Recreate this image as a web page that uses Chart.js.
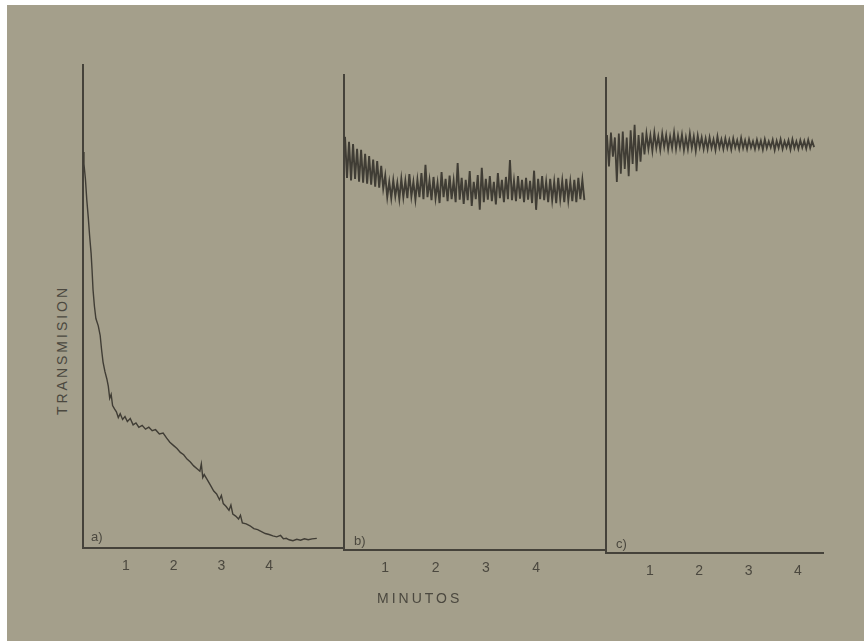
<!DOCTYPE html>
<html>
<head>
<meta charset="utf-8">
<script src="https://cdn.jsdelivr.net/npm/chart.js@4.4.1/dist/chart.umd.min.js"></script>
<style>
  html, body { margin: 0; background: #a49f8b; overflow: hidden; }
  #page {
    position: relative; width: 864px; height: 641px; overflow: hidden;
    background: #a49f8b; font-family: "Liberation Sans", Arial, sans-serif; color: #4b483f;
  }
  .edge-top { position: absolute; left: 0; top: 0; width: 864px; height: 5px; background: #fff; }
  .edge-left { position: absolute; left: 0; top: 0; width: 7px; height: 641px; background: #fff; }
  canvas { position: absolute; }
  .lbl { position: absolute; font-size: 13px; }
  #ylabel {
    position: absolute; left: 62px; top: 350px; font-size: 14px; letter-spacing: 3px;
    transform: translate(-50%, -50%) rotate(-90deg); white-space: nowrap;
  }
  #xlabel { position: absolute; left: 377px; top: 590px; font-size: 14px; letter-spacing: 3px; }
</style>
</head>
<body>
<div id="page">
  <div class="edge-top"></div>
  <div class="edge-left"></div>
  <canvas id="panel-a" width="264" height="516" style="left:80px; top:62px;"></canvas>
  <canvas id="panel-b" width="265" height="508" style="left:341px; top:72px;"></canvas>
  <canvas id="panel-c" width="221" height="508" style="left:603px; top:75px;"></canvas>
  <div class="lbl" style="left:91px; top:529px;">a)</div>
  <div class="lbl" style="left:354px; top:533px;">b)</div>
  <div class="lbl" style="left:616px; top:536px;">c)</div>
  <div id="ylabel">TRANSMISION</div>
  <div id="xlabel">MINUTOS</div>
</div>
<script>
// minute ticks shared by all three panels
const tick_minutes = [1, 2, 3, 4];

// a) smooth decay
const time_a = [
  0.10, 0.12, 0.15, 0.18, 0.21, 0.24, 0.27, 0.29, 0.31, 0.34,
  0.37, 0.42, 0.46, 0.49, 0.52, 0.56, 0.60, 0.63, 0.66, 0.69,
  0.72, 0.76, 0.80, 0.84, 0.88, 0.93, 0.98, 1.03, 1.09, 1.15,
  1.21, 1.27, 1.34, 1.41, 1.48, 1.55, 1.62, 1.70, 1.78, 1.85,
  1.92, 2.00, 2.07, 2.14, 2.21, 2.28, 2.35, 2.42, 2.49, 2.55,
  2.58, 2.61, 2.64, 2.70, 2.77, 2.84, 2.90, 2.96, 3.00, 3.04,
  3.10, 3.16, 3.20, 3.24, 3.30, 3.36, 3.40, 3.44, 3.52, 3.60,
  3.68, 3.76, 3.84, 3.92, 4.00, 4.08, 4.16, 4.24, 4.30, 4.36,
  4.42, 4.50, 4.58, 4.66, 4.74, 4.82, 4.90, 5.00
];
const trans_a = [
  82.0, 79.5, 76.5, 72.0, 68.5, 64.5, 61.0, 57.5, 53.5, 50.0,
  47.5, 46.0, 44.0, 41.0, 38.5, 36.5, 35.0, 33.5, 31.0, 31.8,
  29.5, 28.8, 28.2, 27.0, 27.8, 26.6, 27.2, 26.2, 26.8, 25.5,
  25.9, 25.0, 25.4, 24.6, 25.0, 24.3, 24.5, 23.6, 23.8, 22.8,
  21.9, 21.2, 20.6, 19.8, 19.3, 18.4, 17.8, 17.0, 16.4, 15.9,
  17.4, 14.6, 15.2, 14.2, 13.0, 11.8, 11.2, 10.0, 10.9, 9.2,
  8.6, 7.8, 8.9, 7.0, 6.6, 6.0, 6.8, 5.2, 5.0, 4.6,
  4.0, 3.8, 3.4, 3.0, 2.8, 2.5, 2.3, 2.6, 1.9, 2.0,
  1.7, 1.5, 1.8, 1.6, 1.9, 1.7, 1.9, 2.0
];

// b) noisy trace, sampled every step_b minutes
const start_b = 0.20;
const step_b = 0.04;
const trans_b = [
  85.5, 77.0, 84.5, 76.5, 84.0, 76.8, 83.0, 76.2, 82.8, 76.0,
  82.0, 75.8, 81.5, 75.6, 80.8, 75.2, 80.5, 75.0, 79.5, 74.8,
  77.5, 73.0, 76.2, 72.8, 76.5, 73.2, 76.0, 72.6, 76.8, 73.0,
  76.4, 72.8, 77.8, 73.2, 76.2, 72.5, 76.6, 73.0, 78.0, 72.6,
  79.7, 73.0, 76.5, 72.4, 77.2, 72.8, 76.0, 71.8, 78.2, 73.0,
  76.8, 72.2, 77.5, 72.6, 76.4, 72.0, 80.1, 72.5, 77.0, 71.6,
  76.6, 72.4, 78.4, 71.2, 76.2, 72.6, 77.6, 70.4, 79.1, 72.0,
  76.8, 72.5, 77.4, 72.2, 76.2, 71.5, 78.0, 72.8, 76.6, 72.0,
  77.2, 72.6, 80.7, 72.4, 76.4, 72.2, 77.4, 72.7, 76.6, 72.0,
  77.0, 72.5, 76.4, 71.8, 78.5, 70.4, 76.8, 72.6, 77.4, 72.4,
  76.2, 72.0, 76.8, 72.4, 76.2, 71.8, 77.0, 72.6, 76.4, 72.0,
  76.8, 72.4, 76.2, 72.2, 76.6, 72.0, 77.0, 72.6, 76.6, 72.4
];

// c) noisy start, then steady
const start_c = 0.13;
const step_c = 0.04;
const trans_c = [
  86.5, 80.0, 87.0, 82.0, 86.0, 76.8, 86.8, 78.5, 87.2, 79.5,
  86.0, 78.0, 87.5, 80.5, 88.6, 79.0, 86.5, 81.0, 87.0, 82.5,
  86.8, 83.6, 86.4, 83.2, 87.0, 83.8, 86.2, 83.4, 86.8, 84.0,
  86.5, 83.5, 86.2, 83.8, 87.0, 83.6, 86.4, 84.0, 86.6, 83.4,
  86.0, 83.6, 86.8, 83.8, 86.2, 83.2, 86.4, 84.0, 86.0, 83.6,
  85.8, 83.6, 86.0, 83.8, 85.6, 83.4, 86.2, 83.9, 85.6, 83.6,
  85.8, 83.8, 85.5, 83.5, 85.8, 83.9, 85.4, 83.6, 85.9, 83.8,
  85.4, 83.6, 85.6, 83.9, 85.2, 83.6, 85.5, 83.8, 85.3, 83.5,
  85.6, 83.8, 85.2, 83.9, 85.5, 83.4, 85.3, 83.8, 85.6, 83.6,
  85.2, 83.9, 85.4, 83.5, 85.6, 83.8, 85.2, 83.6, 85.4, 83.9,
  85.3, 83.7, 85.5, 83.8, 85.2, 84.0
];

const ink = "#403d35";

const points_a = time_a.map((t, i) => ({ x: t, y: trans_a[i] }));
const points_b = trans_b.map((v, i) => ({ x: start_b + i * step_b, y: v }));
const points_c = trans_c.map((v, i) => ({ x: start_c + i * step_c, y: v }));

function makePanel(id, points, x_min, x_max, y_max, line_w) {
  new Chart(document.getElementById(id), {
    type: "line",
    data: {
      datasets: [
        {
          data: points,
          borderColor: ink,
          borderWidth: line_w,
          pointRadius: 0,
          tension: 0,
          fill: false,
        },
      ],
    },
    options: {
      responsive: false,
      animation: false,
      devicePixelRatio: 1,
      layout: { padding: { left: 3, top: 3, right: 0, bottom: 0 } },
      plugins: { legend: { display: false }, tooltip: { enabled: false } },
      scales: {
        x: {
          type: "linear",
          min: x_min,
          max: x_max,
          grid: { display: false },
          border: { display: true, color: "#45423a", width: 2 },
          afterBuildTicks: (s) => {
            s.ticks = tick_minutes.map((v) => ({ value: v }));
          },
          afterFit: (s) => {
            s.height = 30;
          },
          ticks: {
            padding: 2,
            color: "#4b483f",
            font: { family: "Liberation Sans", size: 14 },
            callback: (v) => String(v),
          },
        },
        y: {
          min: 0,
          max: y_max,
          grid: { display: false },
          border: { display: true, color: "#45423a", width: 2 },
          ticks: { display: false },
          afterFit: (s) => {
            s.width = 0;
          },
        },
      },
    },
  });
}

makePanel("panel-a", points_a, 0.1, 5.57, 100, 1.4);
makePanel("panel-b", points_b, 0.18, 5.39, 98.3, 1.9);
makePanel("panel-c", points_c, 0.11, 4.53, 98.3, 1.8);
</script>
</body>
</html>
